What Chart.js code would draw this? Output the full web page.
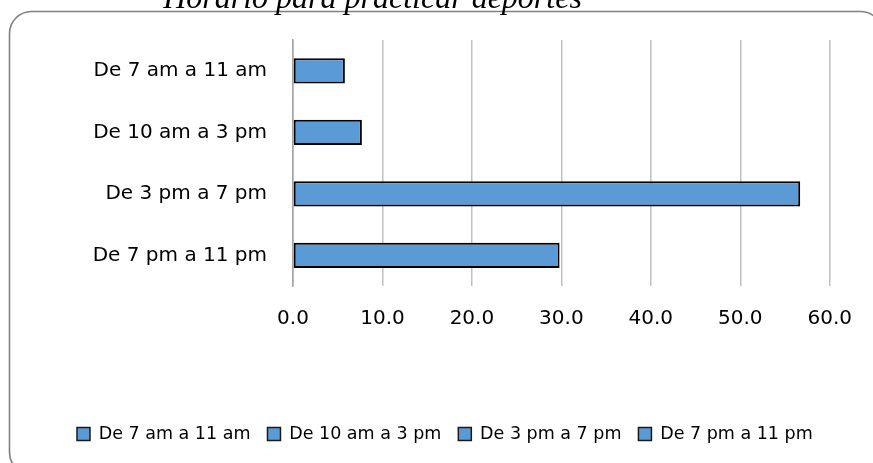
<!DOCTYPE html>
<html>
<head>
<meta charset="utf-8">
<script src="https://cdn.jsdelivr.net/npm/chart.js@4/dist/chart.umd.min.js"></script>
<style>
  html, body { margin: 0; padding: 0; background: #ffffff; }
  #wrap { width: 873px; height: 463px; position: relative; }
</style>
</head>
<body>
<div id="wrap"><canvas id="chart"></canvas></div>
<script>
// Horario preferido para practicar deportes (porcentaje de respuestas)
const chartTitle = 'Horario para practicar deportes';
const categories = ['De 7 am a 11 am', 'De 10 am a 3 pm', 'De 3 pm a 7 pm', 'De 7 pm a 11 pm'];
const percentages = [5.8, 7.7, 56.7, 29.8];
const axisMin = 0;
const axisMax = 60;
const axisStep = 10;

const barFill = '#5b9bd5';
const barEdge = '#000000';
const labelFont = 'DejaVu Sans';

// Rounded frame and italic heading drawn onto the canvas
const framePlugin = {
  id: 'frame',
  afterDraw(chart) {
    const ctx = chart.ctx;
    ctx.save();
    ctx.strokeStyle = '#808080';
    ctx.lineWidth = 1.6;
    ctx.beginPath();
    ctx.roundRect(9.5, 11.5, 873, 463, 22);
    ctx.stroke();
    ctx.fillStyle = '#000000';
    ctx.font = 'italic 32px "Liberation Serif", "DejaVu Serif", serif';
    ctx.textAlign = 'center';
    ctx.textBaseline = 'alphabetic';
    ctx.fillText(chartTitle, 372.5, 8);
    ctx.restore();
  }
};

new Chart(document.getElementById('chart'), {
  type: 'bar',
  data: {
    labels: categories,
    datasets: [{
      data: percentages,
      backgroundColor: barFill,
      borderColor: barEdge,
      borderWidth: 2,
      borderSkipped: false,
      categoryPercentage: 1,
      barPercentage: 0.41
    }]
  },
  options: {
    indexAxis: 'y',
    responsive: true,
    maintainAspectRatio: false,
    animation: false,
    layout: { padding: { top: 40, left: 60, right: 42.4, bottom: 10.25 } },
    scales: {
      x: {
        min: axisMin,
        max: axisMax,
        afterFit(scale) { scale.height = 122; },
        ticks: {
          stepSize: axisStep,
          padding: 21,
          color: '#000000',
          font: { family: labelFont, size: 20 },
          callback: (v) => Number(v).toFixed(1)
        },
        grid: {
          drawTicks: false,
          color: (c) => c.index === 0 ? '#a6a6a6' : '#c0c0c0',
          lineWidth: 1.5
        },
        border: { display: false }
      },
      y: {
        afterFit(scale) { scale.width = 233; },
        ticks: {
          padding: 26,
          color: '#000000',
          font: { family: labelFont, size: 20 }
        },
        grid: { display: false, drawTicks: false },
        border: { display: true, color: '#a6a6a6', width: 1.5 }
      }
    },
    plugins: {
      title: { display: false },
      tooltip: { enabled: false },
      legend: {
        position: 'bottom',
        align: 'start',
        labels: {
          boxWidth: 13,
          boxHeight: 13,
          padding: 17,
          color: '#000000',
          font: { family: labelFont, size: 17.5 },
          generateLabels: () => categories.map((name, i) => ({
            text: name,
            fillStyle: barFill,
            strokeStyle: '#1a1a1a',
            lineWidth: 1.5,
            hidden: false,
            index: i
          }))
        }
      }
    }
  },
  plugins: [framePlugin]
});
</script>
</body>
</html>
